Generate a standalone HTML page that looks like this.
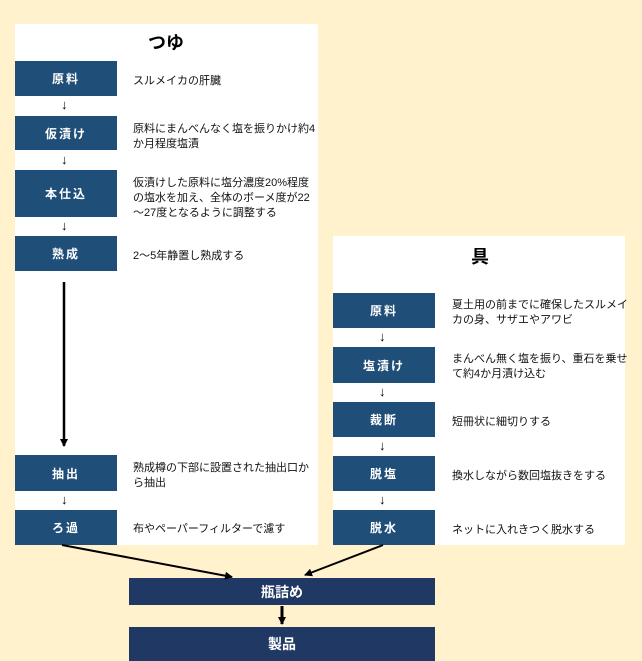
<!DOCTYPE html>
<html><head><meta charset="utf-8"><style>
body{margin:0;width:642px;height:661px;background:#fff2cc;position:relative;overflow:hidden;font-family:"Liberation Sans","Noto Sans CJK JP",sans-serif;}
.p{position:absolute;background:#fff;}
.b{position:absolute;background:#1f4e79;color:#fff;font-size:12px;font-weight:bold;display:flex;align-items:center;justify-content:center;letter-spacing:2px;}
.t{position:absolute;font-size:11px;line-height:15px;color:#111;}
.a{position:absolute;font-size:13px;font-weight:bold;color:#000;}
.h{position:absolute;font-size:18px;font-weight:bold;}
.n{position:absolute;background:#203864;color:#fff;font-size:14px;font-weight:bold;display:flex;align-items:center;justify-content:center;}
</style></head><body>
<div class="p" style="left:15px;top:24px;width:303px;height:521px"></div>
<div class="p" style="left:333px;top:236px;width:292px;height:309px"></div>
<div class="h" style="left:148px;top:29px">つゆ</div>
<div class="h" style="left:471px;top:243px">具</div>

<div class="b" style="left:15px;top:61px;width:102px;height:35px">原料</div>
<div class="b" style="left:15px;top:116px;width:102px;height:34px">仮漬け</div>
<div class="b" style="left:15px;top:170px;width:102px;height:47px">本仕込</div>
<div class="b" style="left:15px;top:236px;width:102px;height:35px">熟成</div>
<div class="b" style="left:15px;top:455px;width:102px;height:36px">抽出</div>
<div class="b" style="left:15px;top:510px;width:102px;height:35px">ろ過</div>
<div class="a" style="left:61px;top:97px">↓</div>
<div class="a" style="left:61px;top:152px">↓</div>
<div class="a" style="left:61px;top:218px">↓</div>
<div class="a" style="left:61px;top:492px">↓</div>

<div class="t" style="left:133px;top:74px">スルメイカの肝臓</div>
<div class="t" style="left:133px;top:122px;width:185px">原料にまんべんなく塩を振りかけ約4<br>か月程度塩漬</div>
<div class="t" style="left:133px;top:176px;width:185px">仮漬けした原料に塩分濃度20%程度<br>の塩水を加え、全体のボーメ度が22<br>～27度となるように調整する</div>
<div class="t" style="left:133px;top:249px">2～5年静置し熟成する</div>
<div class="t" style="left:133px;top:461px">熟成樽の下部に設置された抽出口か<br>ら抽出</div>
<div class="t" style="left:133px;top:522px">布やペーパーフィルターで濾す</div>

<div class="b" style="left:333px;top:293px;width:102px;height:35px">原料</div>
<div class="b" style="left:333px;top:347px;width:102px;height:36px">塩漬け</div>
<div class="b" style="left:333px;top:402px;width:102px;height:35px">裁断</div>
<div class="b" style="left:333px;top:456px;width:102px;height:35px">脱塩</div>
<div class="b" style="left:333px;top:510px;width:102px;height:35px">脱水</div>
<div class="a" style="left:379px;top:329px">↓</div>
<div class="a" style="left:379px;top:384px">↓</div>
<div class="a" style="left:379px;top:438px">↓</div>
<div class="a" style="left:379px;top:492px">↓</div>
<div class="t" style="left:452px;top:298px">夏土用の前までに確保したスルメイ<br>カの身、サザエやアワビ</div>
<div class="t" style="left:452px;top:352px">まんべん無く塩を振り、重石を乗せ<br>て約4か月漬け込む</div>
<div class="t" style="left:452px;top:415px">短冊状に細切りする</div>
<div class="t" style="left:452px;top:469px">換水しながら数回塩抜きをする</div>
<div class="t" style="left:452px;top:523px">ネットに入れきつく脱水する</div>

<div class="n" style="left:129px;top:578px;width:306px;height:27px">瓶詰め</div>
<div class="n" style="left:129px;top:627px;width:306px;height:34px">製品</div>

<svg style="position:absolute;left:0;top:0" width="642" height="661">
<defs><marker id="m" markerWidth="8" markerHeight="8" refX="7" refY="4" orient="auto" markerUnits="userSpaceOnUse"><path d="M0,0 L8,4 L0,8 z" fill="#000"/></marker></defs>
<line x1="64" y1="282" x2="64" y2="446" stroke="#000" stroke-width="2.5" marker-end="url(#m)"/>
<line x1="62" y1="545" x2="232" y2="577" stroke="#000" stroke-width="2" marker-end="url(#m)"/>
<line x1="383" y1="545" x2="305" y2="575" stroke="#000" stroke-width="2" marker-end="url(#m)"/>
<line x1="282" y1="606" x2="282" y2="624" stroke="#000" stroke-width="3" marker-end="url(#m)"/>
</svg>
</body></html>
